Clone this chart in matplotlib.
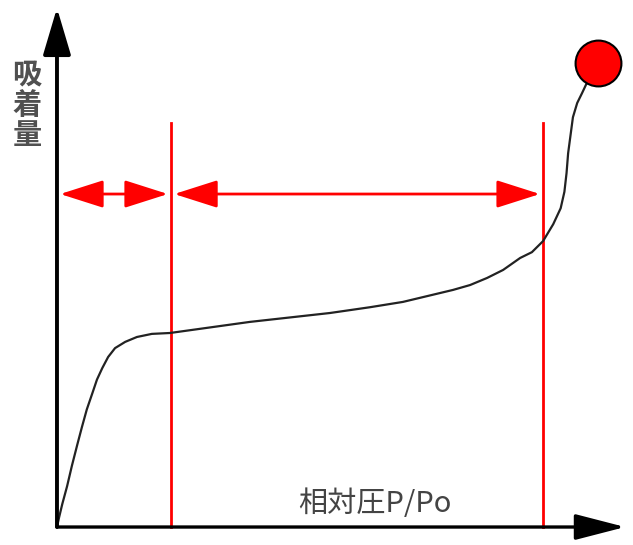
import matplotlib
matplotlib.use("Agg")
from matplotlib import pyplot as plt

plt.rcParams['font.family'] = ['Noto Sans CJK JP', 'DejaVu Sans']

# 吸着等温線 (相対圧, 吸着量) - 図から読み取った値
p_rel = [0.0, 0.004, 0.010, 0.019, 0.028, 0.038, 0.047, 0.056, 0.066, 0.075,
         0.085, 0.096, 0.109, 0.128, 0.150, 0.178, 0.212, 0.362, 0.512, 0.587,
         0.649, 0.743, 0.775, 0.807, 0.837, 0.869, 0.891, 0.912, 0.931, 0.945,
         0.952, 0.956, 0.959, 0.964, 0.968, 0.976, 0.985, 0.994]
ads = [0.0, 0.022, 0.052, 0.092, 0.138, 0.185, 0.226, 0.265, 0.300, 0.332,
       0.358, 0.383, 0.403, 0.417, 0.428, 0.435, 0.437, 0.462, 0.482, 0.495,
       0.507, 0.534, 0.545, 0.561, 0.579, 0.606, 0.619, 0.644, 0.682, 0.718,
       0.755, 0.797, 0.842, 0.887, 0.923, 0.955, 0.977, 1.0]

# 区間の境界
borders = [0.214, 0.912]
border_top = 0.91
arrow_y = 0.75
end_point = (1.015, 1.045)

fig = plt.figure(figsize=(6.33, 5.45), dpi=100)
ax = fig.add_axes([0, 0, 1, 1])
ax.set_xlim(-0.1069, 1.0807)
ax.set_ylim(-0.0405, 1.187)
ax.axis('off')

# 軸(矢印)
ax.annotate('', xy=(0, 1.169), xytext=(0, 0),
            arrowprops=dict(arrowstyle='-|>,head_length=29,head_width=8.6',
                            mutation_scale=1, color='black', lw=2.8,
                            shrinkA=0, shrinkB=0))
ax.annotate('', xy=(1.066, 0), xytext=(0, 0),
            arrowprops=dict(arrowstyle='-|>,head_length=31,head_width=8',
                            mutation_scale=1, color='black', lw=2.4,
                            shrinkA=0, shrinkB=0))

# 境界線
for b in borders:
    ax.plot([b, b], [0, border_top], color='red', lw=2)

# 区間の両矢印
edges = [0.0] + borders
for a, b in zip(edges[:-1], edges[1:]):
    ax.annotate('', xy=(b - 0.006, arrow_y), xytext=(a + 0.006, arrow_y),
                arrowprops=dict(arrowstyle='<|-|>,head_length=27,head_width=8.6',
                                mutation_scale=1, color='red', lw=2,
                                shrinkA=0, shrinkB=0))

# 等温線
ax.plot(p_rel, ads, color='#222222', lw=1.6)
ax.plot(*end_point, 'o', ms=33, mfc='red', mec='black', mew=1.5)

ax.text(-0.056, 0.95, '吸\n着\n量', ha='center', va='center', fontsize=21,
        color='#505050', fontweight='bold', linespacing=1.0)
ax.text(0.597, 0.052, '相対圧P/Po', ha='center', va='center', fontsize=21,
        color='#444444')

fig.savefig('out.png', dpi=100)
